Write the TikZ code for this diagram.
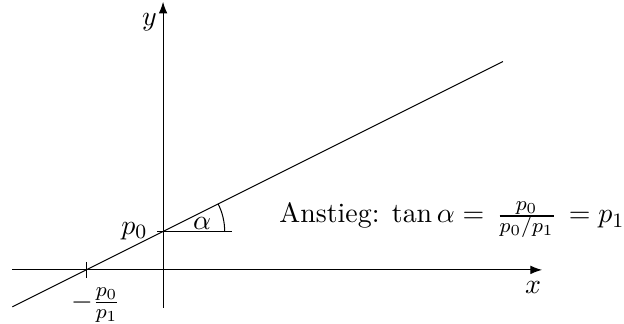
\documentclass[tikz,11pt,border=0pt]{standalone}
\usepackage{amsmath}
\usepackage{amssymb}
\usepackage{tikz}
\usetikzlibrary{arrows, arrows.meta, positioning, calc}

\begin{document}
\begin{tikzpicture}[axis/.style={-{Latex[length=4.6pt,width=3.4pt]}, thin},
    graph/.style={thin}]
    \useasboundingbox (-2.25,-0.745) rectangle (6.36,3.724);
    \coordinate (xstart) at (-2.08,0);
    \coordinate (xend) at (5.23,0);
    \coordinate (ystart) at (0,-0.52);
    \coordinate (yend) at (0,3.70);
    \coordinate (lstart) at (-2.08,-0.51);
    \coordinate (lend) at (4.69,2.875);
    \coordinate (p0) at (-0.08,0.53);
    \coordinate (hor) at (0.95,0.53);
    \coordinate (tickup) at (-1.06,0.11);
    \coordinate (tickdown) at (-1.06,-0.11);

    \draw [axis] (xstart) -- (xend) node[below left, xshift=0.12cm, yshift=-0.03cm] (xlabel) {$x$};
    \draw [axis] (ystart) -- (yend) node[below left, xshift=0.05cm, yshift=-0.03cm] (ylabel) {$y$};
    \draw [graph] (lstart) -- (lend);
    \draw [graph] (p0) node[left] (p0label) {$p_0$} -- (hor);
    \draw [graph] (tickup) -- (tickdown) node[below, xshift=0.13cm] (rootlabel) {$-\frac{p_0}{p_1}$};
    \draw [graph] (0.85,0.53) arc (0:26.57:0.85);
    \node (alpha) at (0.54,0.634) {$\alpha$};
    \node [anchor=base west] (slope) at (1.47,0.648) {Anstieg: $\tan\alpha = \,\frac{p_0}{p_0/p_1}\, = p_1$};
\end{tikzpicture}
\end{document}
